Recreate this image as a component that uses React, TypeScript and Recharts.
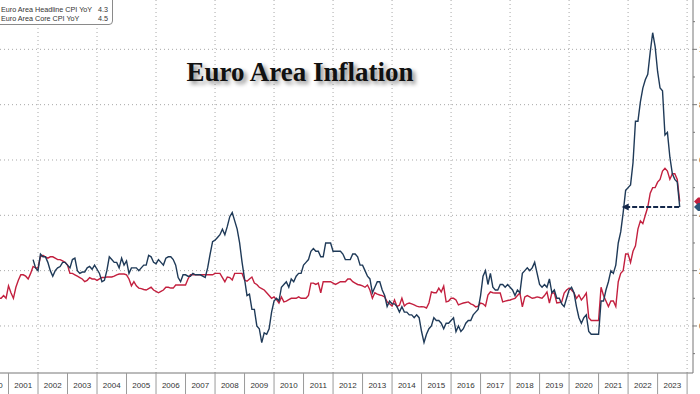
import React from "react";
import { LineChart, Line, XAxis, YAxis, ReferenceLine, ReferenceDot } from "recharts";

// x axis: years, labels sit in the middle of each year
const YEARS = [
  2000, 2001, 2002, 2003, 2004, 2005, 2006, 2007, 2008, 2009, 2010, 2011, 2012,
  2013, 2014, 2015, 2016, 2017, 2018, 2019, 2020, 2021, 2022, 2023, 2024,
];
const GRID_YEARS = [2002, 2004, 2006, 2008, 2010, 2012, 2014, 2016, 2018, 2020, 2022, 2024];
const Y_TICKS = [-1, 0, 1, 2, 3, 4, 5, 6, 7, 8, 9, 10, 11];
const GRID_VALUES = [0, 2, 4, 6, 8, 10];

// monthly YoY %, core starts Aug 2000
const CORE_START = { year: 2000, month: 8 };
const CORE = [
  1.0, 1.0, 1.1, 1.0, 1.45,
  1.2, 1.0, 1.4, 1.65, 1.85, 1.85, 1.8, 1.7, 1.9, 2.15, 2.1, 2.1,
  2.5, 2.55, 2.5, 2.45, 2.5, 2.5, 2.45, 2.4, 2.4, 2.35, 2.3, 2.2,
  1.9, 1.9, 1.85, 1.8, 1.75, 1.7, 1.6, 1.65, 1.75, 1.7, 1.7, 1.65,
  1.7, 1.75, 1.75, 1.77, 1.77, 1.77, 1.8, 1.85, 1.88, 1.88, 1.88, 1.85,
  1.7, 1.45, 1.6, 1.45, 1.37, 1.35, 1.32, 1.3, 1.35, 1.4, 1.3, 1.25,
  1.2, 1.25, 1.3, 1.4, 1.4, 1.37, 1.37, 1.48, 1.48, 1.48, 1.48, 1.48,
  1.7, 1.85, 1.85, 1.85, 1.85, 1.85, 1.85, 1.85, 1.85, 1.85, 1.85, 1.9,
  1.9, 1.9, 1.75, 1.6, 1.77, 1.75, 1.66, 1.9, 1.9, 1.9, 1.9, 1.66,
  1.62, 1.7, 1.77, 1.55, 1.5, 1.4, 1.35, 1.3, 1.2, 1.1, 1.0, 1.05,
  0.95, 0.83, 1.05, 0.87, 0.9, 0.95, 1.0, 1.0, 1.0, 1.05, 1.0, 1.0,
  1.0, 1.1, 1.55, 1.55, 1.5, 1.55, 1.2, 1.6, 1.6, 1.6, 1.6, 1.55,
  1.5, 1.55, 1.6, 1.6, 1.6, 1.7, 1.7, 1.6, 1.55, 1.5, 1.48, 1.45,
  1.4, 1.48, 1.3, 1.0, 1.2, 1.15, 1.12, 1.1, 1.05, 0.87, 0.8, 0.72,
  0.94, 0.7, 0.75, 1.0, 0.72, 0.8, 0.83, 0.8, 0.76, 0.72, 0.69, 0.7,
  0.69, 0.65, 0.83, 1.23, 1.2, 1.2, 1.37, 1.23, 1.44, 0.87, 0.9, 1.0,
  1.0, 0.94, 0.76, 0.8, 0.83, 0.85, 0.87, 0.8, 0.76, 0.69, 0.72, 0.83,
  0.8, 0.72, 1.12, 1.23, 1.2, 1.19, 1.19, 1.19, 0.87, 0.9, 0.92, 0.94,
  0.97, 1.0, 1.1, 1.19, 0.69, 1.05, 1.1, 1.05, 1.0, 1.02, 1.05, 1.03,
  1.0, 1.1, 1.23, 0.83, 1.19, 1.19, 0.83, 0.85, 0.87, 1.19, 1.3, 1.37,
  1.3, 1.2, 1.0, 1.12, 0.94, 1.05, 1.19, 0.3, 0.2, 0.2, 0.2, 0.2,
  1.4, 1.1, 0.9, 0.7, 0.9, 0.9, 0.7, 1.6, 1.9, 2.0, 2.6, 2.6,
  2.3, 2.7, 2.9, 3.5, 3.8, 3.7, 4.0, 4.3, 4.8, 5.0, 5.0, 5.2,
  5.3, 5.6, 5.7, 5.6, 5.3, 5.5, 5.5, 5.3, 4.5,
];

// headline starts Oct 2001
const HEADLINE_START = { year: 2001, month: 10 };
const HEADLINE = [
  2.4, 2.1, 2.0,
  2.6, 2.5, 2.5, 2.3, 2.0, 1.8, 2.0, 2.1, 2.15, 2.3, 2.3, 2.2,
  2.1, 2.4, 2.45, 2.0, 1.9, 1.95, 1.95, 2.1, 2.15, 2.05, 2.2, 2.05,
  1.9, 1.6, 1.65, 2.0, 2.5, 2.4, 2.3, 2.3, 2.1, 2.45, 2.2, 2.35,
  1.9, 2.1, 2.1, 2.1, 2.0, 2.1, 2.2, 2.2, 2.55, 2.5, 2.3, 2.25,
  2.4, 2.3, 2.2, 2.45, 2.5, 2.5, 2.4, 2.2, 1.75, 1.6, 1.85, 1.85,
  1.8, 1.8, 1.9, 1.85, 1.85, 1.85, 1.8, 1.75, 2.1, 2.6, 3.05, 3.1,
  3.2, 3.3, 3.5, 3.3, 3.6, 3.95, 4.1, 3.8, 3.5, 3.0, 2.3, 1.7,
  1.1, 1.15, 0.6, 0.6, 0.0, -0.1, -0.6, -0.25, -0.3, -0.1, 0.5, 0.9,
  1.0, 0.9, 1.4, 1.5, 1.6, 1.4, 1.7, 1.6, 1.8, 1.9, 1.9, 2.2,
  2.3, 2.4, 2.7, 2.8, 2.7, 2.7, 2.5, 2.5, 3.0, 3.0, 3.0, 2.7,
  2.7, 2.7, 2.7, 2.6, 2.4, 2.4, 2.4, 2.6, 2.6, 2.5, 2.2, 2.2,
  2.0, 1.8, 1.7, 1.2, 1.4, 1.6, 1.6, 1.3, 1.1, 0.7, 0.9, 0.8,
  0.8, 0.7, 0.5, 0.7, 0.5, 0.5, 0.4, 0.4, 0.3, 0.4, 0.3, -0.2,
  -0.6, -0.3, -0.1, 0.0, 0.3, 0.2, 0.2, 0.1, -0.1, 0.1, 0.1, 0.2,
  0.3, -0.2, 0.0, -0.2, -0.1, 0.1, 0.2, 0.2, 0.4, 0.5, 0.6, 1.1,
  1.8, 2.0, 1.5, 1.9, 1.4, 1.3, 1.3, 1.5, 1.5, 1.4, 1.5, 1.4,
  1.3, 1.1, 1.3, 1.2, 1.9, 2.0, 2.1, 2.0, 2.1, 2.3, 1.9, 1.5,
  1.4, 1.5, 1.4, 1.7, 1.2, 1.3, 1.0, 1.0, 0.8, 0.7, 1.0, 1.3,
  1.4, 1.2, 0.7, 0.3, 0.1, 0.3, 0.4, -0.2, -0.3, -0.3, -0.3, -0.3,
  0.9, 0.9, 1.3, 1.6, 2.0, 1.9, 2.2, 3.0, 3.4, 4.1, 4.9, 5.0,
  5.1, 5.9, 7.4, 7.4, 8.1, 8.6, 8.9, 9.1, 9.9, 10.6, 10.1, 9.2,
  8.6, 8.5, 6.9, 7.0, 6.1, 5.5, 5.3, 5.2, 4.3,
];

const LATEST_HEADLINE = 4.3;
const LATEST_CORE = 4.5;
const ARROW_FROM = 2023.75;
const ARROW_TO = 2021.85;

const X_MIN = 2000;
const X_MAX = 2024.2;
const Y_MIN = -1.7;
const Y_MAX = 12;

const PLOT_W = 714;
const PLOT_H = 379;
const AXIS_W = 40;
const AXIS_H = 30;
const HALF_YEAR = PLOT_W / (X_MAX - X_MIN) / 2;

const RED = "#c3203f";
const BLUE = "#1f3a58";
const NAVY = "#14284b";
const GRID = "#a8a8a8";
const FONT = '"Liberation Sans", Arial, sans-serif';

const headlineOffset =
  HEADLINE_START.year * 12 + HEADLINE_START.month - (CORE_START.year * 12 + CORE_START.month);

const data = CORE.map((core, i) => {
  const h = HEADLINE[i - headlineOffset];
  return {
    t: CORE_START.year + (CORE_START.month + i) / 12,
    core,
    headline: h === undefined ? null : h,
  };
});

function YearTick({ x, y, payload }: any) {
  const year = payload.value;
  return (
    <g>
      <line x1={x} y1={y} x2={x} y2={y + 24} stroke="#9a9a9a" />
      {year < 2024 ? (
        <text
          x={x + HALF_YEAR}
          y={y + 15}
          textAnchor="middle"
          fontSize={8}
          fontFamily={FONT}
          fill="#333"
        >
          {year}
        </text>
      ) : null}
    </g>
  );
}

function ValueTick({ x, y, payload }: any) {
  const v = payload.value;
  const major = v % 2 === 0;
  return (
    <g>
      <line x1={x} y1={y} x2={x + (major ? 4 : 2)} y2={y} stroke="#777" />
      {major ? (
        <text x={x + 6} y={y + 3} fontSize={9} fontFamily={FONT} fill="#333">
          {v}
        </text>
      ) : null}
    </g>
  );
}

function ArrowHead({ cx, cy }: any) {
  return (
    <polygon
      points={`${cx - 2},${cy} ${cx + 5},${cy - 3.5} ${cx + 5},${cy + 3.5}`}
      fill={NAVY}
    />
  );
}

// last-value tags on the right edge, mostly cut off by the frame
function ValueTag({ cx, cy, fill }: any) {
  return (
    <path
      d={`M${cx + 1},${cy} L${cx + 5},${cy - 4} L${cx + 40},${cy - 4} L${cx + 40},${cy + 4} L${cx + 5},${cy + 4} Z`}
      fill={fill}
    />
  );
}

function LegendRow({ label, value }: { label: string; value: number }) {
  return (
    <div
      style={{
        display: "flex",
        justifyContent: "space-between",
        height: 9,
        lineHeight: "9px",
        whiteSpace: "nowrap",
      }}
    >
      <span>{label}</span>
      <span>{value.toFixed(1)}</span>
    </div>
  );
}

export default function App() {
  return (
    <div
      style={{
        position: "fixed",
        left: 0,
        top: 0,
        width: 700,
        height: 394,
        overflow: "hidden",
        background: "#fff",
      }}
    >
      <div style={{ position: "absolute", left: -21, top: -6 }}>
        <LineChart
          width={PLOT_W + AXIS_W}
          height={PLOT_H + AXIS_H}
          data={data}
          margin={{ top: 0, right: 0, bottom: 0, left: 0 }}
        >
          {GRID_VALUES.map((v) => (
            <ReferenceLine key={`h${v}`} y={v} stroke={GRID} strokeDasharray="1 3" />
          ))}
          {GRID_YEARS.map((yr) => (
            <ReferenceLine key={`v${yr}`} x={yr} stroke={GRID} strokeDasharray="1 3" />
          ))}
          <XAxis
            dataKey="t"
            type="number"
            domain={[X_MIN, X_MAX]}
            allowDataOverflow
            ticks={YEARS}
            interval={0}
            tickSize={0}
            tickMargin={0}
            tickLine={false}
            axisLine={{ stroke: "#777" }}
            height={AXIS_H}
            tick={(p: any) => <YearTick {...p} />}
          />
          <YAxis
            orientation="right"
            type="number"
            domain={[Y_MIN, Y_MAX]}
            allowDataOverflow
            ticks={Y_TICKS}
            interval={0}
            width={AXIS_W}
            tickSize={0}
            tickMargin={0}
            tickLine={false}
            axisLine={{ stroke: "#777" }}
            tick={(p: any) => <ValueTick {...p} />}
          />
          <Line
            dataKey="core"
            stroke={RED}
            strokeWidth={1.4}
            dot={false}
            isAnimationActive={false}
          />
          <Line
            dataKey="headline"
            stroke={BLUE}
            strokeWidth={1.4}
            dot={false}
            isAnimationActive={false}
          />
          <ReferenceLine
            segment={[
              { x: ARROW_TO + 0.05, y: LATEST_HEADLINE },
              { x: ARROW_FROM, y: LATEST_HEADLINE },
            ]}
            stroke={NAVY}
            strokeWidth={2}
            strokeDasharray="5 2"
          />
          <ReferenceDot
            x={ARROW_TO}
            y={LATEST_HEADLINE}
            shape={(p: any) => <ArrowHead {...p} />}
          />
          <ReferenceDot
            x={X_MAX}
            y={LATEST_CORE}
            ifOverflow="visible"
            shape={(p: any) => <ValueTag {...p} fill={RED} />}
          />
          <ReferenceDot
            x={X_MAX}
            y={LATEST_HEADLINE}
            ifOverflow="visible"
            shape={(p: any) => <ValueTag {...p} fill="#2c5478" />}
          />
        </LineChart>
      </div>

      <div
        style={{
          position: "absolute",
          left: -4,
          top: -4,
          width: 117,
          height: 29,
          boxSizing: "border-box",
          border: "1px solid #8a8a8a",
          borderRadius: 4,
          background: "#fff",
          padding: "8px 4px 0 4px",
          fontFamily: FONT,
          fontSize: 7.2,
          color: "#333",
        }}
      >
        <LegendRow label="Euro Area Headline CPI YoY" value={LATEST_HEADLINE} />
        <LegendRow label="Euro Area Core CPI YoY" value={LATEST_CORE} />
      </div>

      <div
        style={{
          position: "absolute",
          left: 0,
          width: 600,
          top: 59,
          textAlign: "center",
          fontFamily: '"Liberation Serif", "Times New Roman", serif',
          fontWeight: "bold",
          fontSize: 27,
          lineHeight: 1,
          color: "#111",
          textShadow: "3px 3px 4px rgba(0,0,0,0.45)",
        }}
      >
        Euro Area Inflation
      </div>
    </div>
  );
}
